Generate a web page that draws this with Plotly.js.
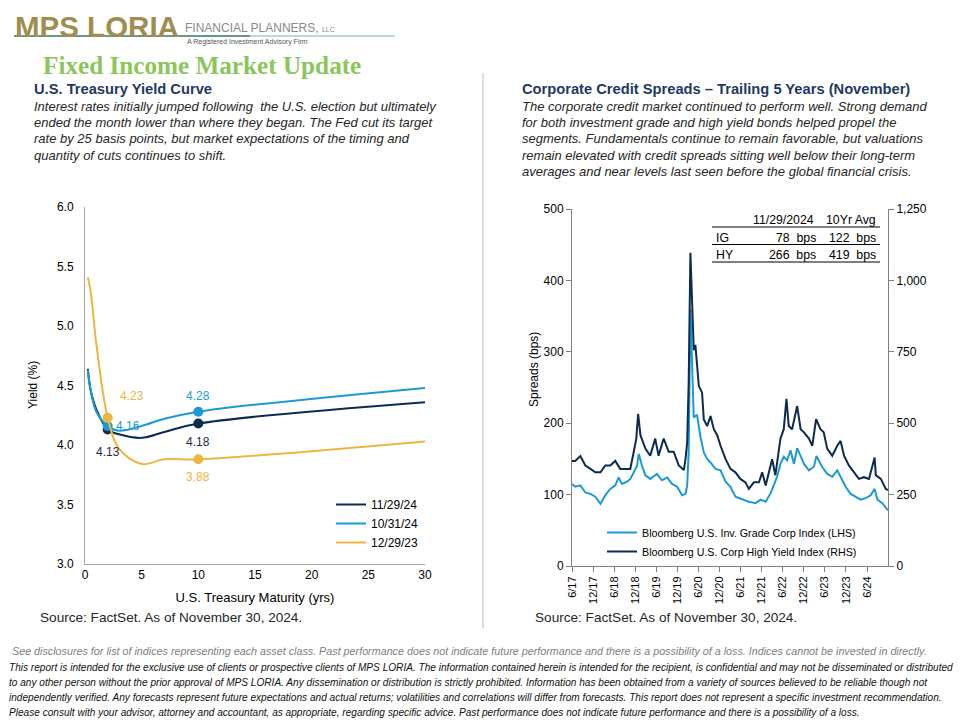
<!DOCTYPE html>
<html>
<head>
<meta charset="utf-8">
<script src="https://cdn.plot.ly/plotly-3.0.1.min.js"></script>
<style>html,body{margin:0;padding:0;background:#fff;}#chart{width:960px;height:720px;}</style>
</head>
<body>
<div id="chart"></div>
<script>
// ---------- Yield curve data ----------
const maturities   = [0.25, 0.5, 1, 2, 3, 5, 7, 10, 30];
const yieldsNov24  = [4.64, 4.46, 4.30, 4.13, 4.09, 4.06, 4.11, 4.18, 4.36];
const yieldsOct24  = [4.63, 4.46, 4.28, 4.16, 4.12, 4.16, 4.22, 4.28, 4.48];
const yieldsDec23  = [5.41, 5.29, 4.85, 4.23, 3.97, 3.84, 3.88, 3.88, 4.03];
const curveNames   = ['11/29/24', '10/31/24', '12/29/23'];
const labeledIdx   = [3, 7]; // 2-yr and 10-yr points

// ---------- Credit spread data ----------
const igDates = ['2017-06-01','2017-06-29','2017-08-12','2017-09-25','2017-11-08','2017-12-20','2018-02-03','2018-03-16','2018-04-29','2018-06-11','2018-07-10','2018-08-08','2018-09-21','2018-10-19','2018-11-18','2018-12-16','2019-01-01','2019-01-29','2019-02-27','2019-04-10','2019-06-07','2019-07-20','2019-09-03','2019-10-16','2019-11-29','2020-01-11','2020-02-10','2020-02-24','2020-03-08','2020-03-23','2020-04-21','2020-05-19','2020-06-18','2020-07-17','2020-08-15','2020-09-13','2020-10-26','2020-12-09','2021-01-22','2021-03-05','2021-04-17','2021-06-14','2021-08-11','2021-10-08','2021-11-21','2022-01-04','2022-02-16','2022-03-15','2022-04-13','2022-05-12','2022-06-10','2022-07-09','2022-08-07','2022-09-06','2022-10-04','2022-11-03','2022-12-02','2023-01-14','2023-02-26','2023-03-20','2023-05-08','2023-06-21','2023-08-04','2023-09-16','2023-10-15','2023-11-28','2024-01-10','2024-02-23','2024-04-06','2024-05-19','2024-07-02','2024-08-05','2024-08-29','2024-10-11','2024-11-29'];
const igSpread = [115,111,113,103,101,97,87,99,108,113,124,115,118,122,131,140,157,140,127,122,129,120,124,115,111,99,101,113,160,360,208,212,181,159,150,145,136,134,118,111,97,93,90,88,93,90,102,113,125,143,153,148,162,143,165,154,143,134,139,154,139,129,125,134,125,111,101,97,93,95,99,108,93,88,78];

const hyDates = ['2017-06-01','2017-06-29','2017-08-12','2017-09-25','2017-11-08','2017-12-20','2018-02-03','2018-03-16','2018-04-29','2018-06-11','2018-07-24','2018-09-06','2018-10-19','2018-11-18','2018-12-10','2018-12-26','2019-01-15','2019-02-27','2019-04-10','2019-05-23','2019-06-21','2019-08-04','2019-09-17','2019-10-30','2019-12-13','2020-01-26','2020-02-10','2020-02-24','2020-03-08','2020-03-23','2020-04-07','2020-04-21','2020-05-05','2020-06-04','2020-07-02','2020-07-17','2020-08-15','2020-09-13','2020-10-12','2020-11-10','2020-12-09','2021-01-22','2021-03-05','2021-04-17','2021-05-30','2021-07-13','2021-08-11','2021-09-24','2021-11-07','2021-12-05','2022-01-04','2022-02-02','2022-03-01','2022-03-29','2022-05-12','2022-06-10','2022-07-03','2022-07-23','2022-08-21','2022-10-04','2022-11-03','2022-12-02','2023-01-14','2023-02-12','2023-03-17','2023-04-24','2023-05-22','2023-06-21','2023-08-04','2023-09-16','2023-10-15','2023-11-14','2023-12-26','2024-02-09','2024-03-22','2024-05-05','2024-06-17','2024-08-05','2024-08-15','2024-09-28','2024-11-10','2024-11-29'];
const hySpread = [368,368,385,352,340,328,328,352,352,368,340,340,340,400,446,533,458,411,386,446,386,446,400,400,352,336,376,433,642,1097,943,756,774,630,607,513,490,525,479,458,421,374,340,328,305,293,270,293,293,328,282,328,374,318,446,479,585,490,479,560,479,468,446,421,514,479,468,411,386,421,438,386,352,328,305,311,305,380,318,305,270,266];
const spreadNames = ['Bloomberg U.S. Inv. Grade Corp Index (LHS)', 'Bloomberg U.S. Corp High Yield Index (RHS)'];

const spreadTickDates  = ['2017-06-01','2017-12-01','2018-06-01','2018-12-01','2019-06-01','2019-12-01','2020-06-01','2020-12-01','2021-06-01','2021-12-01','2022-06-01','2022-12-01','2023-06-01','2023-12-01','2024-06-01'];
const spreadTickLabels = ['6/17','12/17','6/18','12/18','6/19','12/19','6/20','12/20','6/21','12/21','6/22','12/22','6/23','12/23','6/24'];

// ---------- Table ----------
const tableHeader  = ['11/29/2024', '10Yr Avg'];
const tableRows    = ['IG', 'HY'];
const tableCurrent = ['78\u00a0 bps', '266\u00a0 bps'];
const tableAvg     = ['122\u00a0 bps', '419\u00a0 bps'];

// ---------- Text ----------
const leftTitle = 'U.S. Treasury Yield Curve';
const leftPara = [
  'Interest rates initially jumped following  the U.S. election but ultimately',
  'ended the month lower than where they began. The Fed cut its target',
  'rate by 25 basis points, but market expectations of the timing and',
  'quantity of cuts continues to shift.'
];
const rightTitle = 'Corporate Credit Spreads \u2013 Trailing 5 Years (November)';
const rightPara = [
  'The corporate credit market continued to perform well. Strong demand',
  'for both investment grade and high yield bonds helped propel the',
  'segments. Fundamentals continue to remain favorable, but valuations',
  'remain elevated with credit spreads sitting well below their long-term',
  'averages and near levels last seen before the global financial crisis.'
];
const sourceText = 'Source: FactSet. As of November 30, 2024.';
const footerNote = 'See disclosures for list of indices representing each asset class. Past performance does not indicate future performance and there is a possibility of a loss. Indices cannot be invested in directly.';
const disclaimer = [
  'This report is intended for the exclusive use of clients or prospective clients of MPS LORIA. The information contained herein is intended for the recipient, is confidential and may not be disseminated or distributed',
  'to any other person without the prior approval of MPS LORIA. Any dissemination or distribution is strictly prohibited. Information has been obtained from a variety of sources believed to be reliable though not',
  'independently verified. Any forecasts represent future expectations and actual returns; volatilities and correlations will differ from forecasts. This report does not represent a specific investment recommendation.',
  'Please consult with your advisor, attorney and accountant, as appropriate, regarding specific advice. Past performance does not indicate future performance and there is a possibility of a loss.'
];

// ---------- Styling ----------
const NAVY = '#0c2b50', LIGHT = '#1c9ad6', GOLD = '#efb540';
const SANS = 'Liberation Sans, Arial, sans-serif';
const NARROW = 'Liberation Sans Narrow, Arial Narrow, Liberation Sans, sans-serif';
const W = 960, H = 720;
const px = x => x / W;
const py = y => 1 - y / H;

const curves = [yieldsNov24, yieldsOct24, yieldsDec23];
const curveColors = [NAVY, LIGHT, GOLD];

const traces = [];
curves.forEach((ys, i) => {
  traces.push({
    x: maturities, y: ys, type: 'scatter', mode: 'lines', name: curveNames[i],
    line: {color: curveColors[i], width: 2, shape: 'spline', smoothing: 1},
    xaxis: 'x', yaxis: 'y', legend: 'legend', hoverinfo: 'skip'
  });
  traces.push({
    x: labeledIdx.map(k => maturities[k]), y: labeledIdx.map(k => ys[k]),
    type: 'scatter', mode: 'markers', showlegend: false,
    marker: {color: curveColors[i], size: 10},
    xaxis: 'x', yaxis: 'y', hoverinfo: 'skip'
  });
});
traces.push({
  x: igDates, y: igSpread, type: 'scatter', mode: 'lines', name: spreadNames[0],
  line: {color: LIGHT, width: 2}, xaxis: 'x2', yaxis: 'y2', legend: 'legend2', hoverinfo: 'skip'
});
traces.push({
  x: hyDates, y: hySpread, type: 'scatter', mode: 'lines', name: spreadNames[1],
  line: {color: NAVY, width: 2}, xaxis: 'x2', yaxis: 'y3', legend: 'legend2', hoverinfo: 'skip'
});

// Point label offsets [curve][point] -> [xshift, yshift, xanchor]
const labelOffsets = [
  [[0, -22, 'center'], [0, -18, 'center']],
  [[6, 0, 'left'], [0, 16, 'center']],
  [[10, 22, 'left'], [0, -18, 'center']]
];

const ann = [];
curves.forEach((ys, i) => {
  labeledIdx.forEach((k, j) => {
    const o = labelOffsets[i][j];
    ann.push({x: maturities[k], y: ys[k], xref: 'x', yref: 'y', text: ys[k].toFixed(2),
      showarrow: false, xshift: o[0], yshift: o[1], xanchor: o[2],
      font: {family: SANS, size: 12, color: i === 0 ? '#1f2a44' : curveColors[i]}});
  });
});

function txt(x, y, text, opts) {
  return Object.assign({x: px(x), y: py(y), xref: 'paper', yref: 'paper', text: text,
    showarrow: false, xanchor: 'left', yanchor: 'middle',
    font: {family: SANS, size: 12, color: '#262626'}}, opts || {});
}

// Logo
ann.push(txt(13, 27, '<b>MPS LORIA</b>', {font: {family: SANS, size: 29.5, color: '#a08d50'}}));
ann.push(txt(183, 28, 'FINANCIAL PLANNERS, <span style="font-size:7px">LLC</span>', {font: {family: NARROW, size: 12, color: '#8a8a8a'}}));
ann.push(txt(185, 42, 'A Registered Investment Advisory Firm', {font: {family: NARROW, size: 7, color: '#555'}}));
ann.push(txt(41, 65, '<b>Fixed Income Market Update</b>', {font: {family: 'Liberation Serif, DejaVu Serif, serif', size: 25.2, color: '#8cc65b'}}));

// Titles and paragraphs
ann.push(txt(32, 89, '<b>' + leftTitle + '</b>', {font: {family: SANS, size: 14.7, color: '#1f3864'}}));
leftPara.forEach((l, i) => ann.push(txt(32, 106 + i * 16.4, '<i>' + l + '</i>', {font: {family: SANS, size: 13, color: '#262626'}})));
ann.push(txt(520, 89, '<b>' + rightTitle + '</b>', {font: {family: SANS, size: 14.7, color: '#1f3864'}}));
rightPara.forEach((l, i) => ann.push(txt(520, 106 + i * 16.4, '<i>' + l + '</i>', {font: {family: SANS, size: 13, color: '#262626'}})));

// Axis titles
ann.push(txt(33, 385, 'Yield (%)', {xanchor: 'center', textangle: -90, font: {family: SANS, size: 12, color: '#000'}}));
ann.push(txt(534, 370, 'Spreads (bps)', {xanchor: 'center', textangle: -90, font: {family: SANS, size: 12, color: '#000'}}));

// Sources
ann.push(txt(38, 617, sourceText, {font: {family: SANS, size: 13.6, color: '#262626'}}));
ann.push(txt(533, 617, sourceText, {font: {family: SANS, size: 13.6, color: '#262626'}}));

// Footer
ann.push(txt(10, 651, '<i>' + footerNote + '</i>', {font: {family: NARROW, size: 10.75, color: '#808080'}}));
disclaimer.forEach((l, i) => ann.push(txt(7, 667 + i * 15.3, '<i>' + l + '</i>', {font: {family: NARROW, size: 10.1, color: '#111'}})));

// Table
ann.push(txt(816, 220, tableHeader[0], {xanchor: 'right', font: {family: SANS, size: 12.3, color: '#000'}}));
ann.push(txt(878, 220, tableHeader[1], {xanchor: 'right', font: {family: SANS, size: 12.3, color: '#000'}}));
tableRows.forEach((r, i) => {
  const yy = 237.5 + i * 18;
  ann.push(txt(714, yy, r, {font: {family: SANS, size: 12.3, color: '#000'}}));
  ann.push(txt(818, yy, tableCurrent[i], {xanchor: 'right', font: {family: SANS, size: 12.3, color: '#000'}}));
  ann.push(txt(878, yy, tableAvg[i], {xanchor: 'right', font: {family: SANS, size: 12.3, color: '#000'}}));
});

function hline(x0, x1, y, color, width) {
  return {type: 'line', xref: 'paper', yref: 'paper', x0: px(x0), x1: px(x1), y0: py(y), y1: py(y),
    line: {color: color, width: width}};
}
const shapes = [
  hline(14, 250, 36, '#2f7d52', 1.5),
  hline(250, 395, 36, '#a9cfb6', 1.5),
  {type: 'line', xref: 'paper', yref: 'paper', x0: px(483), x1: px(483), y0: py(73), y1: py(628), line: {color: '#d0d0d0', width: 1.5}},
  hline(712, 880, 227, '#000', 1.2),
  hline(712, 880, 244.5, '#000', 1.2),
  hline(712, 880, 262, '#000', 1.2)
];

const axisFont = {family: SANS, size: 12, color: '#000'};
const layout = {
  width: W, height: H, margin: {l: 0, r: 0, t: 0, b: 0},
  paper_bgcolor: '#fff', plot_bgcolor: 'rgba(0,0,0,0)',
  showlegend: true,
  xaxis: {domain: [px(85), px(425)], range: [0, 30], tickvals: [0,5,10,15,20,25,30],
    showline: true, linecolor: '#a6a6a6', linewidth: 1, showgrid: false, zeroline: false,
    ticks: '', tickfont: axisFont, anchor: 'y', fixedrange: true,
    title: {text: 'U.S. Treasury Maturity (yrs)', font: {family: SANS, size: 13, color: '#000'}, standoff: 11}},
  yaxis: {domain: [py(564), py(207)], range: [3, 6], dtick: 0.5, tickformat: '.1f',
    showline: true, linecolor: '#a6a6a6', linewidth: 1, showgrid: false, zeroline: false,
    ticks: '', tickfont: axisFont, anchor: 'x', ticklabelstandoff: 8, fixedrange: true},
  xaxis2: {domain: [px(572), px(888)], type: 'date', range: ['2017-06-01', '2024-11-29'],
    tickmode: 'array', tickvals: spreadTickDates, ticktext: spreadTickLabels, tickangle: -90,
    showline: true, linecolor: '#808080', linewidth: 1, showgrid: false, zeroline: false,
    ticks: 'outside', ticklen: 5, tickcolor: '#808080', tickfont: {family: SANS, size: 11, color: '#000'}, anchor: 'y2', fixedrange: true},
  yaxis2: {domain: [py(566), py(209)], range: [0, 500], dtick: 100,
    showline: true, linecolor: '#808080', linewidth: 1, showgrid: false, zeroline: false,
    ticks: 'outside', ticklen: 5, tickcolor: '#808080', tickfont: axisFont, anchor: 'x2', fixedrange: true},
  yaxis3: {domain: [py(566), py(209)], range: [0, 1250], dtick: 250, tickformat: ',', overlaying: 'y2', side: 'right',
    showline: true, linecolor: '#808080', linewidth: 1, showgrid: false, zeroline: false,
    ticks: 'outside', ticklen: 5, tickcolor: '#808080', tickfont: axisFont, anchor: 'x2', fixedrange: true},
  legend: {x: px(331), y: py(490), xanchor: 'left', yanchor: 'top', bgcolor: 'rgba(0,0,0,0)',
    font: {family: SANS, size: 12, color: '#000'}, itemwidth: 30, tracegroupgap: 0},
  legend2: {x: px(602), y: py(518), xanchor: 'left', yanchor: 'top', bgcolor: 'rgba(0,0,0,0)',
    font: {family: SANS, size: 10.7, color: '#000'}, itemwidth: 30},
  annotations: ann,
  shapes: shapes
};

Plotly.newPlot('chart', traces, layout, {displayModeBar: false, staticPlot: true});
</script>
</body>
</html>
